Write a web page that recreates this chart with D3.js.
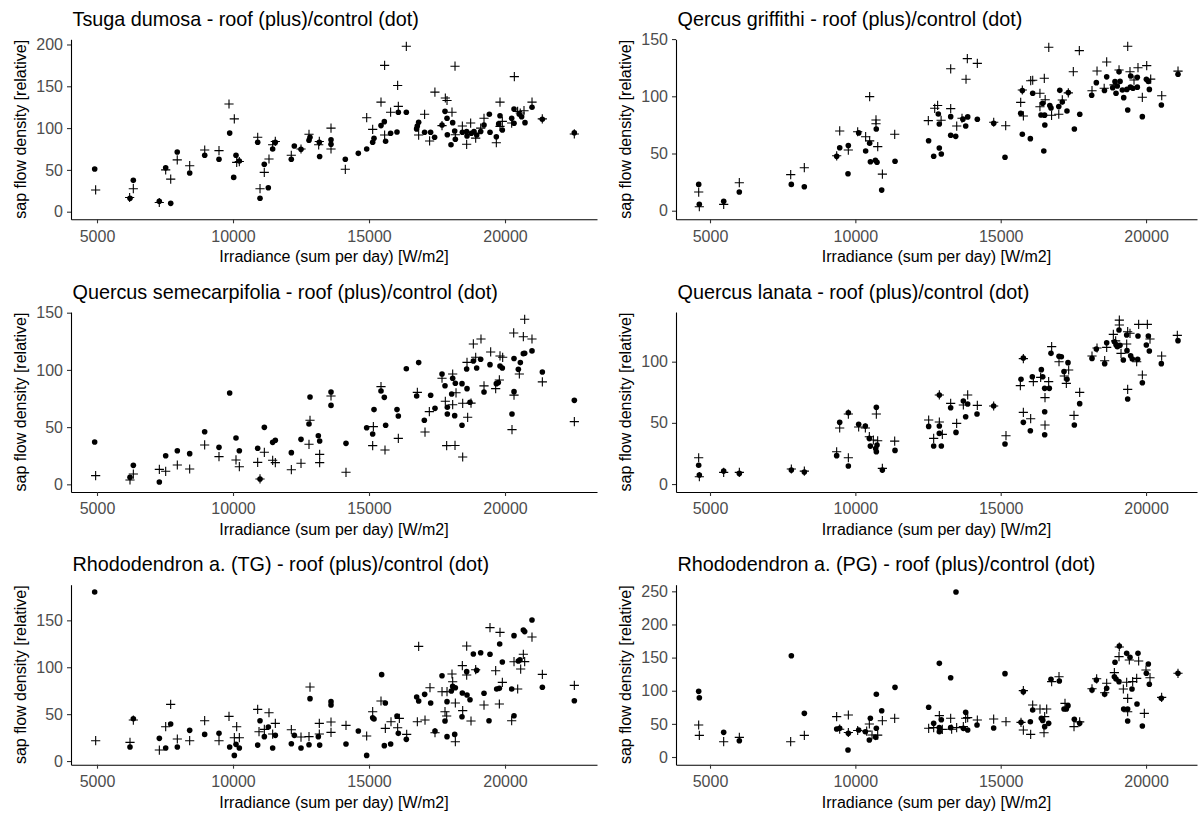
<!DOCTYPE html>
<html>
<head>
<meta charset="utf-8">
<script src="https://cdn.jsdelivr.net/npm/d3@7"></script>
<style>
  html, body { margin: 0; padding: 0; background: #fff; }
  svg { display: block; font-family: "Liberation Sans", Arial, sans-serif; }
  .tick text { fill: #4d4d4d; font-size: 16px; }
  .tick line { stroke: #333; }
  .domain { stroke: #000; }
</style>
</head>
<body>
<svg id="chart" width="1201" height="818"></svg>
<script>
// Daily irradiance sum (x) vs. relative sap flow density (y), per species.
// "control" = control trees (drawn as dots), "roof" = roofed trees (drawn as plus).

const xTickValues = [5000, 10000, 15000, 20000];
const xLabel = "Irradiance (sum per day) [W/m2]";
const yLabel = "sap flow density [relative]";

const titles = [
  "Tsuga dumosa - roof (plus)/control (dot)",
  "Qercus griffithi - roof (plus)/control (dot)",
  "Quercus semecarpifolia - roof (plus)/control (dot)",
  "Quercus lanata - roof (plus)/control (dot)",
  "Rhododendron a. (TG) - roof (plus)/control (dot)",
  "Rhododendron a. (PG) - roof (plus)/control (dot)"
];

const yTicksTsuga = [0, 50, 100, 150, 200];
const yTicksQGriffithi = [0, 50, 100, 150];
const yTicksQSemecarpifolia = [0, 50, 100, 150];
const yTicksQLanata = [0, 50, 100];
const yTicksRhodoTG = [0, 50, 100, 150];
const yTicksRhodoPG = [0, 50, 100, 150, 200, 250];

// ---- Tsuga dumosa ----
const tsugaControl = [[4915,51],[6213,16],[6335,37.5],[7290,12.4],[7710,10],[7525,52.6],[7950,71.4],[8408,46.3],[8960,67.5],[9485,62.7],[9878,94],[10110,67.5],[10025,41],[10232,60.6],[10908,83],[10993,16],[11150,56.7],[11298,28.7],[11458,75],[11555,83],[12143,62.7],[12254,78.6],[12500,74.6],[12794,85.4],[12830,89],[13173,83],[13185,66],[13603,86],[13603,80.6],[14129,62.7],[14607,69.8],[14915,75],[15135,83],[15184,87.8],[15441,103],[15563,107.7],[15610,84.2],[15794,93.8],[16029,95.3],[16078,119],[16372,119],[16750,99],[16776,102.5],[16825,107],[17044,95],[17265,95],[17412,89],[17684,103.7],[17794,120],[17868,111.7],[17880,92],[18076,106.5],[18014,80],[18174,86.6],[18150,96.5],[18432,95],[18590,96],[18603,90.5],[18762,93.8],[18860,96],[18960,91.7],[19106,96],[19228,103.7],[19424,116.5],[19449,95],[19681,89.7],[19816,114.8],[19767,105],[19902,97.7],[20245,111.7],[20331,122.8],[20331,105.7],[20525,116.5],[20610,113.6],[20735,106.5],[20993,124.9],[21371,110.5],[22548,94.5]];
const tsugaRoof = [[4950,26],[6200,17],[6335,27.5],[7290,11],[7525,50],[7710,39],[7950,62],[8408,55],[8960,73.8],[9485,73],[9853,128.8],[10048,111],[10136,59],[10232,60],[10908,89],[10993,27.5],[11150,47],[11323,63],[11458,80],[11555,84],[12143,67.5],[12500,75],[12794,92.6],[13173,84],[13150,80],[13603,100],[13603,75],[14129,50.7],[14915,112.4],[15135,98.5],[15441,131],[15574,175],[15574,91.7],[15794,119],[16053,151],[16078,126],[16372,197.8],[16825,91.7],[17044,116.5],[17228,84.6],[17423,143],[17684,103],[17806,136],[17868,133],[18051,119],[18162,174],[18174,92],[18432,102.5],[18590,80.6],[18737,106],[18922,88],[19106,100],[19228,111.7],[19681,82.5],[19816,131],[19816,102],[19902,108],[20245,106],[20343,161.5],[20464,120],[20560,118],[20698,120.8],[20993,131],[21371,111],[22548,93]];

// ---- Qercus griffithi ----
const qGriffithiControl = [[4611,23],[4632,5.6],[5471,8.2],[6008,16.3],[7797,23],[8244,21],[9358,47.5],[9462,55],[9758,57],[9747,32.3],[10115,68],[10354,52.2],[10492,59],[10720,71.4],[10518,42.8],[10690,44],[10745,42.3],[10906,18],[11365,43.2],[12520,61.2],[12695,47.6],[12854,84.5],[12888,75.8],[12888,54.8],[12957,49.6],[13280,82.2],[13280,66],[13452,65],[13700,80],[13796,74],[13865,82],[14196,79.9],[14760,76.5],[15148,46.7],[15688,85.1],[15744,105],[15744,66.8],[16020,63],[16101,102.6],[16386,83.7],[16445,93.9],[16510,83.5],[16518,74.9],[16483,52.2],[16690,92],[16730,89.8],[17033,105.2],[16998,91],[17119,95],[17326,103.2],[17280,87.2],[17534,71.4],[17720,84.3],[18130,100.9],[18290,111.9],[18570,105],[18646,117],[18852,107.5],[18932,112.8],[18967,102.6],[19010,109],[19071,121.5],[19106,113],[19185,105.5],[19232,98.8],[19370,88],[19340,106],[19462,108],[19472,117.7],[19550,107],[19700,116.6],[19700,108],[19872,82.2],[20011,114.8],[20080,113],[20114,106],[20527,92.4],[21100,119.2]];
const qGriffithiRoof = [[4611,16.3],[4632,3.5],[5471,5.5],[6008,24.5],[7776,31.5],[8244,37.6],[9358,48],[9462,69.7],[9758,53],[10080,69],[10354,64.7],[10492,61],[10492,99.7],[10710,79.3],[10710,76],[10770,56],[10930,32],[11354,66.8],[12510,78.7],[12730,89.5],[12830,92],[12950,79],[13280,124],[13280,89.2],[13487,74],[13669,80.8],[13852,132.9],[13807,114.9],[14196,128.8],[14760,77.3],[15172,74.3],[15688,94.7],[15744,105.5],[15780,82.8],[16032,113.6],[16101,114],[16350,102.6],[16350,90.9],[16500,115.7],[16530,97],[16750,83.4],[16654,142.8],[16998,84.3],[17119,96.8],[17326,103],[17498,121.5],[17705,139.9],[18141,104.9],[18314,122.1],[18560,107],[18646,130],[18900,110],[19071,123],[19370,143.7],[19448,121.5],[19586,114.2],[19723,125],[19872,99.1],[20023,126.8],[20160,115],[20540,100.5],[21100,122]];

// ---- Quercus semecarpifolia ----
const qSemecarpifoliaControl = [[4914,37],[6213,6.1],[6336,16.6],[7292,2],[7525,25],[7953,29.4],[8407,26.8],[8958,46],[9485,32.3],[9877,79.8],[10110,40.5],[10233,29.4],[10907,31.5],[10993,4.7],[11152,49.8],[11458,36.7],[11556,38.5],[12145,27.7],[12500,39.3],[12794,52.7],[12831,76.3],[13137,42.5],[13186,37.9],[13603,80.7],[13603,69],[14154,35.8],[14914,49.5],[15135,44],[15184,65.3],[15441,81.6],[15563,76],[15612,51.6],[16029,65.3],[16078,59.7],[16372,101],[16826,106.4],[16752,77.2],[17034,56],[17267,77.8],[17426,66.4],[17684,96.4],[17794,86.2],[17880,67.3],[17880,61.5],[18039,79],[18076,92.7],[18174,88.3],[18150,60],[18419,88],[18419,51.6],[18603,83.6],[18590,100.8],[18713,71.7],[18836,107.8],[18958,101.7],[19105,109.3],[19228,80.7],[19448,104.6],[19681,88],[19755,88.9],[19816,103.4],[19902,101.7],[20257,61.5],[20331,81],[20331,110],[20490,100.5],[20564,106.4],[20674,114.2],[20723,114.5],[20992,116.6],[21373,98.2],[22549,73.4]];
const qSemecarpifoliaRoof = [[4950,7.6],[6213,3.8],[6336,9],[7292,13.1],[7525,11.4],[7953,16.9],[8407,13.4],[8958,34.4],[9485,24.2],[10110,21.3],[10233,15.4],[10907,19.2],[10993,4.7],[11152,28],[11458,21],[11556,19],[12145,12.8],[12500,18.4],[12831,56],[12794,35],[13186,26.2],[13186,19],[13603,77.2],[14154,10.5],[15135,33.8],[15160,50.4],[15441,85.4],[15588,30],[16078,40.2],[16777,80.4],[17059,45.7],[17218,63.5],[17684,92.7],[17806,72.6],[17855,33.8],[18162,34],[18076,96.4],[18076,69.6],[18199,80],[18444,70.8],[18444,23.9],[18603,106.6],[18627,58.6],[18750,71],[18836,122.7],[18922,111],[19117,127],[19228,86],[19473,115.7],[19657,83.6],[19792,91.2],[19816,112.2],[19914,111],[20257,47.8],[20331,78],[20319,132.3],[20527,96.4],[20674,129],[20723,144.2],[20992,127],[21373,89.5],[22549,54.8]];

// ---- Quercus lanata ----
const qLanataControl = [[4610,15.3],[4633,7.4],[5470,10.6],[6009,8.7],[7798,11.4],[8245,9.8],[9357,23.2],[9461,50.4],[9759,58.3],[9759,14.7],[10114,48.8],[10344,47.4],[10481,37.3],[10516,31],[10722,62.7],[10745,31.9],[10722,26.4],[10699,29],[10929,11.4],[11364,27.5],[12522,47.1],[12694,31.1],[12889,72.8],[12889,47.4],[12889,41.4],[12958,31.1],[13279,62.4],[13462,42.2],[13715,67.8],[13864,65.4],[13795,55],[14185,57.2],[14758,63.8],[15148,32.7],[15699,85.6],[15779,103],[15779,50.4],[16020,43.6],[16088,87.7],[16398,93.5],[16444,87.7],[16513,78.2],[16513,59.1],[16513,40.3],[16673,78.2],[16730,106.8],[17006,104.4],[17086,104],[17178,92],[17315,99.2],[17281,85.6],[17533,48.2],[17717,65.7],[18141,102.7],[18290,110.4],[18577,98.4],[18646,115.5],[18910,116.3],[18967,113.9],[19013,112.3],[19070,125.9],[19104,113.4],[19219,101.4],[19368,69.5],[19334,121.8],[19345,109],[19471,104.9],[19528,102.2],[19712,101.9],[19723,121],[19873,82.8],[20010,113.6],[20079,121],[20113,108.7],[20526,98.4],[21099,117.2]];
const qLanataRoof = [[4610,21.5],[4633,6],[5470,9.5],[6009,9.5],[7798,12.3],[8245,10.6],[9357,26.4],[9461,45.8],[9759,57.2],[9759,21.5],[10114,46.6],[10344,45.8],[10481,38.7],[10619,36],[10722,57.2],[10768,35.4],[10929,12.8],[11353,35.1],[12522,52.3],[12694,37.3],[12889,72.8],[12889,50.7],[12992,40.6],[13279,65.9],[13485,49.6],[13715,64.6],[13864,72.8],[14196,64.3],[14758,63.8],[15182,39.5],[15676,80.4],[15779,102.5],[15779,58.6],[16031,53.4],[16123,83.7],[16375,87.2],[16524,70.6],[16524,48.2],[16650,83.7],[16753,112.3],[17006,100],[17189,88.3],[17338,93.2],[17258,82.3],[17522,56.1],[17717,74.9],[18141,104.6],[18313,111.2],[18577,100.8],[18646,111.7],[18875,122.3],[18955,117],[19081,134],[19081,130],[19139,106.8],[19368,77.4],[19368,124.5],[19334,114.4],[19448,123.2],[19678,100],[19746,130.5],[19873,89.1],[20045,130.5],[20136,118.5],[20537,104.6],[21076,121.5]];

// ---- Rhododendron a. (TG) ----
const rhodoTGControl = [[4914,180.2],[6213,14.9],[6336,45.1],[7292,24.2],[7525,13.9],[7708,39.5],[7953,14.9],[8407,32.7],[8958,28.4],[9485,29.5],[9877,14.9],[10049,6],[10110,17.8],[10233,13.9],[10907,17],[10993,43],[11152,26],[11299,36.3],[11458,13.9],[11556,27.4],[12145,18.5],[12255,27.4],[12500,13.9],[12794,17.4],[12831,66.5],[13137,26],[13186,17],[13603,63.3],[13603,59.7],[14154,18.1],[14608,32],[14914,6],[15135,46.2],[15184,44.8],[15465,92.1],[15600,61.9],[15563,16.4],[15796,18.1],[16029,48],[16078,29.5],[16372,23.1],[16752,68.3],[16826,64],[17046,71.1],[17267,61.9],[17426,32],[17684,91],[17794,42.7],[17868,63.3],[17868,26],[18027,74.7],[18076,79.6],[18174,78.2],[18150,28.4],[18431,72.5],[18419,47.3],[18591,95.3],[18603,70.4],[18713,65.4],[18836,114.1],[18958,96.7],[19105,115.5],[19228,72.2],[19448,113.8],[19412,43],[19694,76.8],[19792,77.5],[19804,124.8],[19902,105.6],[20245,76.8],[20331,48.3],[20331,133.7],[20490,106.6],[20551,108],[20674,139.7],[20723,138],[20992,150.4],[21373,78.6],[22549,64.3]];
const rhodoTGRoof = [[4951,21.7],[6213,19.9],[6336,43.7],[7292,11.7],[7525,36.6],[7708,60.4],[7953,23.5],[8407,21.7],[8958,43],[9485,21.7],[9853,47.6],[10135,36.6],[10049,24.9],[10233,24.9],[10907,55.1],[10956,31.3],[11152,33.8],[11323,51.5],[11458,28.8],[11556,40.2],[12145,33.4],[12500,25.6],[12794,26],[12831,78.9],[13173,40.2],[13173,28.8],[13603,41.6],[13603,30.6],[14154,38],[14914,26.7],[15135,52.6],[15441,64],[15600,34.8],[15809,41.9],[16053,35.5],[16115,45.5],[16385,28.4],[16826,122.3],[16777,41.9],[17059,43.7],[17242,78.2],[17426,30.2],[17684,73.9],[17794,52.6],[17868,73.9],[17855,48],[18051,92.8],[18076,84.6],[18174,20.6],[18174,61.9],[18444,53.7],[18431,101.7],[18591,122.6],[18591,91.7],[18750,42.7],[18922,97.4],[19228,59.7],[19448,142.2],[19657,96.3],[19792,60.8],[19816,137.2],[19902,83.9],[20245,43],[20331,105.9],[20466,76.8],[20576,98.1],[20674,113.8],[20723,106],[20992,132.2],[21373,92.4],[22549,80.7]];

// ---- Rhododendron a. (PG) ----
const rhodoPGControl = [[4610,99.1],[4633,89.5],[5470,37.2],[6009,24.6],[7798,152.9],[8245,65.9],[9357,42.3],[9461,43.3],[9747,10.6],[9759,35.7],[10114,40.7],[10344,38.2],[10481,25.7],[10516,58.4],[10722,94.6],[10722,43.3],[10699,29.7],[10906,69.9],[11364,105.1],[12522,75],[12694,50.8],[12889,141.3],[12889,44.3],[12889,38.2],[12958,56.3],[13279,119.7],[13279,44.3],[13462,249],[13715,43.3],[13795,67.4],[13864,40.7],[14185,48.3],[14758,43.8],[15148,125.8],[15699,52.3],[15779,98.6],[16020,53.3],[16100,70.9],[16398,58.4],[16444,55],[16513,45.8],[16650,50.8],[16730,117.2],[17017,114.7],[17178,72.4],[17258,72.4],[17315,77.5],[17533,56.8],[17717,50.8],[18141,101.1],[18290,116.2],[18577,94.6],[18646,103.6],[18910,121.2],[18932,142.9],[18967,117.7],[19081,167.5],[19070,113.7],[19230,72.4],[19334,156.4],[19368,54.3],[19368,72.4],[19448,150.4],[19517,102.6],[19689,80],[19723,156.4],[19873,46.8],[20010,126.3],[20079,140.3],[20113,109.7],[20526,88.5],[21099,126.3]];
const rhodoPGRoof = [[4610,48.3],[4633,32.7],[5470,23.1],[6009,29.7],[7775,23.1],[8245,32.7],[9357,60.9],[9461,42],[9759,63.4],[9759,37],[10080,40],[10390,39],[10481,49.8],[10573,33.2],[10768,33],[10929,54.8],[11353,58.4],[12522,43.3],[12694,44.3],[12889,62.4],[12992,41.7],[13279,58.4],[13313,42],[13485,44.3],[13715,46],[13795,58.4],[13864,59.4],[14196,55.8],[14758,57.3],[15182,53.3],[15699,52.3],[15779,100.1],[15779,40.7],[16031,34.2],[16100,78.5],[16352,72.4],[16582,72.4],[16513,60.9],[16490,36.7],[16753,113.7],[17006,121.2],[17212,81],[17522,45.8],[17717,53],[18141,103],[18301,118],[18577,97],[18646,111.2],[18910,127.3],[19081,166],[19070,151.4],[19219,102.6],[19334,112.7],[19368,68.4],[19368,88.5],[19425,146.4],[19540,113.7],[19678,118.7],[19746,144.9],[19941,65.9],[19998,131.3],[20136,119.7],[20537,90],[21099,126.3]];

// ---- layout ----
const colLeft = [71, 676];
const colRight = [597, 1197];
const rowTop = [39.3, 312.0, 584.7];
const panelHeight = 180;

// axis limits of each facet (x limits shared per column)
const xDomains = [[4044, 23382], [3830, 21753]];

const panels = [
  { title: titles[0], control: tsugaControl, roof: tsugaRoof, yTicks: yTicksTsuga, yDomain: [-9.1, 206.2], row: 0, col: 0 },
  { title: titles[1], control: qGriffithiControl, roof: qGriffithiRoof, yTicks: yTicksQGriffithi, yDomain: [-7.5, 149.8], row: 0, col: 1 },
  { title: titles[2], control: qSemecarpifoliaControl, roof: qSemecarpifoliaRoof, yTicks: yTicksQSemecarpifolia, yDomain: [-6.7, 150.6], row: 1, col: 0 },
  { title: titles[3], control: qLanataControl, roof: qLanataRoof, yTicks: yTicksQLanata, yDomain: [-6.5, 140.6], row: 1, col: 1 },
  { title: titles[4], control: rhodoTGControl, roof: rhodoTGRoof, yTicks: yTicksRhodoTG, yDomain: [-3.9, 188.0], row: 2, col: 0 },
  { title: titles[5], control: rhodoPGControl, roof: rhodoPGRoof, yTicks: yTicksRhodoPG, yDomain: [-11.6, 260.0], row: 2, col: 1 }
];

const svg = d3.select("#chart");
const plusPath = "M-4.6,0H4.6M0,-4.6V4.6";

panels.forEach(p => {
  const left = colLeft[p.col], right = colRight[p.col];
  const top = rowTop[p.row], bottom = top + panelHeight;

  const x = d3.scaleLinear().domain(xDomains[p.col]).range([left, right]);
  const y = d3.scaleLinear().domain(p.yDomain).range([bottom, top]);

  const g = svg.append("g");

  // title
  g.append("text")
    .attr("x", left + 1.5)
    .attr("y", top - 13.5)
    .attr("font-size", 19.8)
    .attr("fill", "#000")
    .text(p.title);

  // points: control as dots, roof as plus
  g.append("g").selectAll("circle")
    .data(p.control)
    .join("circle")
    .attr("cx", d => x(d[0]))
    .attr("cy", d => y(d[1]))
    .attr("r", 2.8)
    .attr("fill", "#000");

  g.append("g").selectAll("path")
    .data(p.roof)
    .join("path")
    .attr("transform", d => `translate(${x(d[0])},${y(d[1])})`)
    .attr("d", plusPath)
    .attr("stroke", "#000")
    .attr("stroke-width", 1.1)
    .attr("fill", "none");

  // axes
  const xAxis = g.append("g")
    .attr("transform", `translate(0,${bottom})`)
    .call(d3.axisBottom(x).tickValues(xTickValues).tickFormat(d3.format("d")).tickSize(4).tickSizeOuter(0).tickPadding(7));
  const yAxis = g.append("g")
    .attr("transform", `translate(${left},0)`)
    .call(d3.axisLeft(y).tickValues(p.yTicks).tickFormat(d3.format("d")).tickSize(4).tickSizeOuter(0).tickPadding(4));
  [xAxis, yAxis].forEach(a => {
    a.attr("font-family", null).attr("font-size", null);
    a.select(".domain").attr("stroke-width", 1.1);
    a.selectAll(".tick line").attr("stroke-width", 1.1);
  });

  // axis titles
  g.append("text")
    .attr("x", (left + right) / 2)
    .attr("y", bottom + 43)
    .attr("text-anchor", "middle")
    .attr("font-size", 16)
    .attr("fill", "#000")
    .text(xLabel);

  g.append("text")
    .attr("transform", `translate(${left - 51},${(top + bottom) / 2}) rotate(-90)`)
    .attr("text-anchor", "middle")
    .attr("dy", "0.35em")
    .attr("font-size", 16)
    .attr("fill", "#000")
    .text(yLabel);
});
</script>
</body>
</html>
